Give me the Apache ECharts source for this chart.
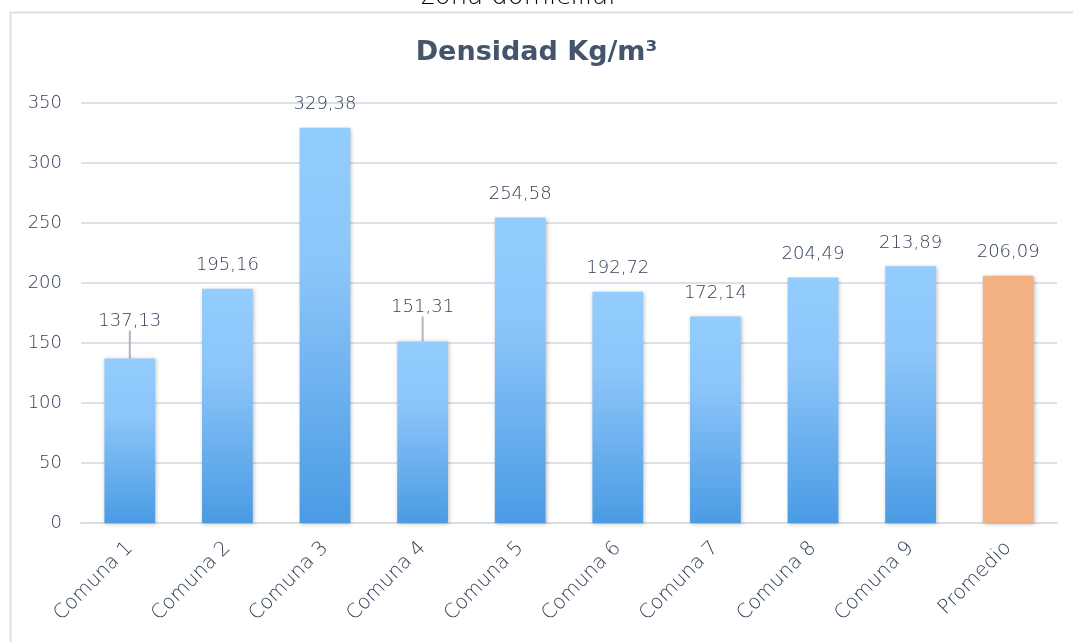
<!DOCTYPE html>
<html>
<head>
<meta charset="utf-8">
<script src="https://cdn.jsdelivr.net/npm/echarts@6/dist/echarts.min.js"></script>
<style>
html,body{margin:0;padding:0;background:#fff;}
#chart{width:1073px;height:642px;}
</style>
</head>
<body>
<div id="chart"></div>
<script>
var categories = ['Comuna 1','Comuna 2','Comuna 3','Comuna 4','Comuna 5','Comuna 6','Comuna 7','Comuna 8','Comuna 9','Promedio'];
var values = [137.13, 195.16, 329.38, 151.31, 254.58, 192.72, 172.14, 204.49, 213.89, 206.09];
var yTicks = [0, 50, 100, 150, 200, 250, 300, 350];
var titleText = 'Densidad Kg/m³';
var cutText = 'zona domiciliar';

var FONT = 'DejaVu Sans';
var TXT = '#44546A';
var LBL = '#2F3E54';
var blueGrad = new echarts.graphic.LinearGradient(0, 0, 0, 1, [
  {offset: 0, color: '#93CDFD'},
  {offset: 0.35, color: '#8CC5F9'},
  {offset: 1, color: '#4A9BE4'}
]);
var shifted = {0: -14, 3: -11};

var data = values.map(function (v, i) {
  var item = {value: v};
  if (categories[i] === 'Promedio') {
    item.itemStyle = {color: '#F3B183'};
  }
  if (shifted[i] !== undefined) {
    item.labelLine = {show: true, lineStyle: {color: '#AEB6C0', width: 2}};
  }
  return item;
});

var chart = echarts.init(document.getElementById('chart'), null, {renderer: 'canvas'});
chart.setOption({
  animation: false,
  backgroundColor: '#fff',
  textStyle: {fontFamily: FONT},
  title: {
    text: titleText,
    left: 'center',
    top: 34,
    textStyle: {fontFamily: FONT, fontSize: 27, fontWeight: 'bold', color: TXT}
  },
  graphic: [
    {type: 'rect', left: 8, top: 10, shape: {width: 1100, height: 700}, style: {fill: 'none', stroke: '#DCE1E8', lineWidth: 2}, z: -1},
    {type: 'text', x: 520, y: 10, style: {text: cutText, fontFamily: FONT, fontWeight: 200, fontSize: 26, fill: '#000000', align: 'center', verticalAlign: 'bottom'}}
  ],
  grid: {left: 81, right: 16, top: 103, bottom: 119, containLabel: false},
  xAxis: {
    type: 'category',
    data: categories,
    axisLine: {lineStyle: {color: '#D9DEE4', width: 2}},
    axisTick: {show: false},
    axisLabel: {rotate: 45, fontFamily: FONT, fontWeight: 200, fontSize: 20, color: LBL, margin: 22}
  },
  yAxis: {
    type: 'value',
    min: yTicks[0],
    max: yTicks[yTicks.length - 1],
    interval: yTicks[1] - yTicks[0],
    axisLine: {show: false},
    axisTick: {show: false},
    splitLine: {lineStyle: {color: '#DDE2E8', width: 2}},
    axisLabel: {fontFamily: FONT, fontWeight: 200, fontSize: 18, color: LBL, margin: 19}
  },
  series: [{
    type: 'bar',
    data: data,
    barWidth: '52%',
    itemStyle: {
      color: blueGrad,
      shadowBlur: 4,
      shadowColor: 'rgba(0,0,0,0.25)',
      shadowOffsetX: 1,
      shadowOffsetY: 1
    },
    label: {
      show: true,
      position: 'top',
      distance: 14,
      fontFamily: FONT,
      fontWeight: 200,
      fontSize: 18,
      color: LBL,
      formatter: function (p) { return p.value.toFixed(2).replace('.', ','); }
    },
    labelLayout: function (p) {
      if (shifted[p.dataIndex] !== undefined) return {dy: shifted[p.dataIndex]};
      return {};
    }
  }]
});
</script>
</body>
</html>
